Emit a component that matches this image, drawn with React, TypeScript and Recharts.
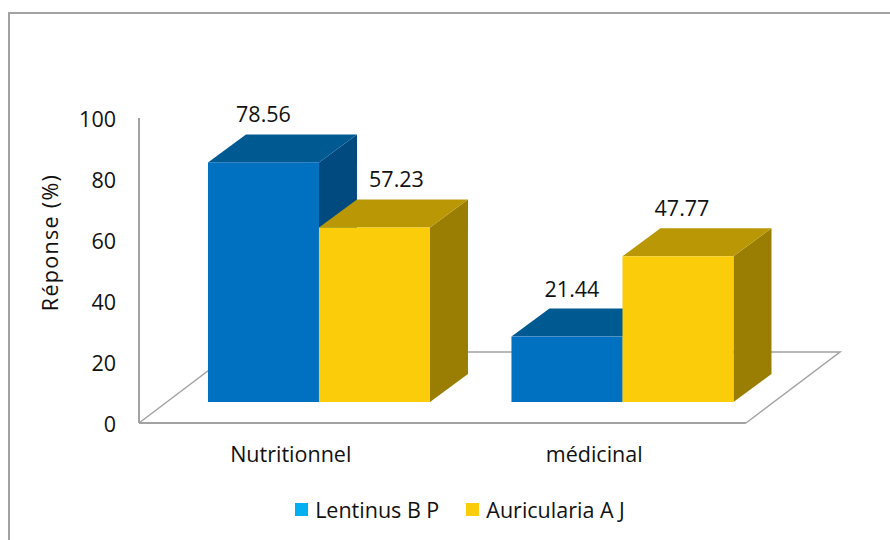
import { BarChart, Bar, XAxis, YAxis, Legend, LabelList, usePlotArea } from 'recharts'

const categories = ['Nutritionnel', 'médicinal']
const lentinus = [78.56, 21.44]
const auricularia = [57.23, 47.77]
const yTicks = [0, 20, 40, 60, 80, 100]

const FONT = '"Open Sans", Lato, sans-serif'
const FONT_SIZE = 21.5
const GREY = '#A3A3A3'
const TEXT = '#111111'

// 3d look: bars sit part way into the floor, floor runs back by DEPTH
const BAR_DX = 28
const BAR_DY = -21
const CUBE_DX = 38
const CUBE_DY = -28
const FLOOR_DX = 94
const FLOOR_DY = -71

const blueFaces = { front: '#0070C0', top: '#005A92', side: '#004A80' }
const yellowFaces = { front: '#FACC0A', top: '#BA9805', side: '#9A7E03' }

// data labels are not centred the same way on each bar in the original
const blueLabelDx = [0, 5]
const yellowLabelDx = [22, 4]

const data = categories.map((name, i) => ({
  name,
  lentinus: lentinus[i],
  auricularia: auricularia[i],
}))

function Cube(props: any, faces: typeof blueFaces) {
  const x = props.x + BAR_DX
  const y = props.y + BAR_DY
  const { width: w, height: h } = props
  return (
    <g>
      <polygon
        points={`${x + w},${y} ${x + w + CUBE_DX},${y + CUBE_DY} ${x + w + CUBE_DX},${y + h + CUBE_DY} ${x + w},${y + h}`}
        fill={faces.side}
      />
      <polygon
        points={`${x},${y} ${x + CUBE_DX},${y + CUBE_DY} ${x + w + CUBE_DX},${y + CUBE_DY} ${x + w},${y}`}
        fill={faces.top}
      />
      <rect x={x} y={y} width={w} height={h} fill={faces.front} />
    </g>
  )
}

function Floor() {
  const plot = usePlotArea()
  if (!plot) return null
  const left = plot.x
  const right = plot.x + plot.width
  const base = plot.y + plot.height
  return (
    <polyline
      points={`${left},${base} ${left + FLOOR_DX},${base + FLOOR_DY} ${right + FLOOR_DX},${base + FLOOR_DY} ${right},${base}`}
      fill="none"
      stroke={GREY}
      strokeWidth={1.5}
    />
  )
}

function valueLabel(nudge: number[]) {
  return (props: any) => (
    <text
      x={props.x + props.width / 2 + BAR_DX + nudge[props.index]}
      y={props.y + BAR_DY + CUBE_DY - 12}
      textAnchor="middle"
      fontSize={FONT_SIZE}
      fontFamily={FONT}
      fill={TEXT}
    >
      {props.value}
    </text>
  )
}

function LegendRow({ payload }: any) {
  return (
    <div style={{ display: 'flex', justifyContent: 'center', gap: 27, fontFamily: FONT, fontSize: FONT_SIZE, color: TEXT }}>
      {(payload ?? []).map((item: any) => (
        <span key={item.value} style={{ display: 'flex', alignItems: 'center', gap: 7 }}>
          <span style={{ width: 13, height: 13, background: item.color, display: 'inline-block' }} />
          {item.value}
        </span>
      ))}
    </div>
  )
}

export default function App() {
  return (
    <div style={{ position: 'absolute', left: 0, top: 0, width: 890, height: 540, overflow: 'hidden', background: '#fff' }}>
      <div
        style={{
          position: 'absolute',
          left: 8,
          top: 12,
          width: 900,
          height: 600,
          border: `2px solid ${GREY}`,
        }}
      />
      <BarChart
        width={890}
        height={540}
        data={data}
        barCategoryGap="13.5%"
        barGap={0}
        margin={{ top: 118, right: 144, bottom: 57, left: 79 }}
        style={{ position: 'absolute', left: 0, top: 0 }}
      >
        <XAxis
          dataKey="name"
          height={60}
          tickLine={false}
          axisLine={{ stroke: GREY, strokeWidth: 2 }}
          tick={{ fontSize: FONT_SIZE, fontFamily: FONT, fill: TEXT }}
          tickMargin={18}
        />
        <YAxis
          width={60}
          domain={[0, 100]}
          ticks={yTicks}
          tickLine={false}
          axisLine={{ stroke: GREY, strokeWidth: 2 }}
          tick={{ fontSize: FONT_SIZE, fontFamily: FONT, fill: TEXT, dy: 1 }}
          tickMargin={17}
          label={{
            value: 'Réponse (%)',
            angle: -90,
            position: 'center',
            dx: -59,
            dy: -28,
            fontSize: FONT_SIZE,
            fontFamily: FONT,
            fill: TEXT,
            letterSpacing: 1.3,
          }}
        />
        <Legend
          verticalAlign="middle"
          align="center"
          itemSorter={null}
          content={LegendRow}
          wrapperStyle={{ top: 495, left: 0, width: 920, height: 30 }}
        />
        <Floor />
        <Bar
          dataKey="lentinus"
          name="Lentinus B P"
          fill="#00B0F0"
          isAnimationActive={false}
          shape={(p: any) => Cube(p, blueFaces)}
        >
          <LabelList dataKey="lentinus" content={valueLabel(blueLabelDx)} />
        </Bar>
        <Bar
          dataKey="auricularia"
          name="Auricularia A J"
          fill="#FACC0A"
          isAnimationActive={false}
          shape={(p: any) => Cube(p, yellowFaces)}
        >
          <LabelList dataKey="auricularia" content={valueLabel(yellowLabelDx)} />
        </Bar>
      </BarChart>
    </div>
  )
}
